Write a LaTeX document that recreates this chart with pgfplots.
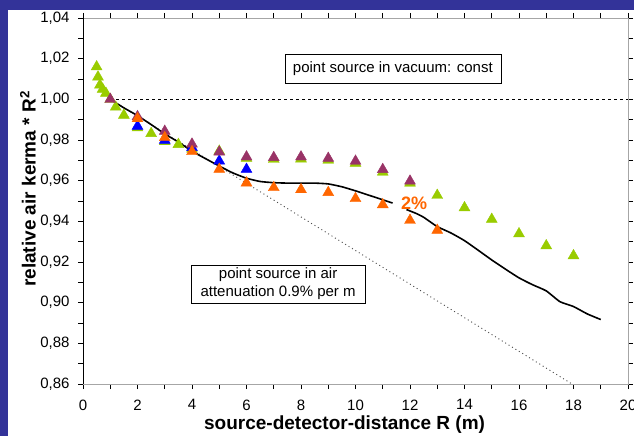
\documentclass[border=0pt]{standalone}
\usepackage{pgfplots}
\pgfplotsset{compat=1.18}
\usepackage{fontspec}
\setmainfont{Liberation Sans}
\definecolor{slideblue}{RGB}{51,51,153}
\definecolor{ygreen}{RGB}{153,204,0}
\definecolor{orng}{RGB}{255,102,0}
\definecolor{plum}{RGB}{153,51,102}
\definecolor{pblue}{RGB}{0,0,255}
\begin{document}
\begin{tikzpicture}
\useasboundingbox (0pt,0pt) rectangle (634pt,436pt);
\clip (0pt,0pt) rectangle (634pt,436pt);
\fill[slideblue] (0pt,0pt) rectangle (634pt,436pt);
\fill[white] (8pt,0pt) rectangle (634pt,426pt);
\begin{axis}[
  at={(83pt,52pt)}, anchor=south west,
  scale only axis, width=545pt, height=366pt,
  xmin=0, xmax=20, ymin=0.86, ymax=1.04,
  xtick={0,2,4,6,8,10,12,14,16,18,20},
  ytick={0.86,0.88,0.90,0.92,0.94,0.96,0.98,1.00,1.02,1.04},
  minor x tick num=1, minor y tick num=1,
  tick align=outside, major tick length=5pt, minor tick length=5pt,
  tick style={black, line width=0.6pt},
  axis line style={draw=gray!70, line width=0.8pt},
  /pgf/number format/assume math mode=true,
  ticklabel style={font=\fontsize{15}{18}\selectfont},
  yticklabel style={/pgf/number format/.cd, fixed, fixed zerofill, precision=2, use comma, /tikz/.cd, xshift=-5pt},
  xticklabel style={/pgf/number format/.cd, fixed, precision=0, /tikz/.cd, yshift=-7pt},
  xlabel={source-detector-distance R (m)},
  ylabel={relative air kerma * R\textsuperscript{2}},
  label style={font=\bfseries\fontsize{19}{22}\selectfont},
  xlabel style={at={(axis description cs:0.48,-0.112)}, anchor=center},
  ylabel style={at={(axis description cs:-0.101,0.533)}, anchor=center},
  every axis plot/.append style={mark size=6.3pt},
]
% reference lines
\addplot[black, line width=0.8pt, dash pattern=on 3pt off 3pt] coordinates {(1,1.0) (20,1.0)};
\addplot[black!70, line width=0.9pt, dash pattern=on 1pt off 3pt] coordinates {(1,1.0) (18.2,0.8579)};
% measured curve
\addplot[black, line width=1.6pt, smooth, tension=0.3] coordinates {
(1,1.000) (1.5,0.9958) (2,0.9920) (2.5,0.9876) (3,0.9830) (3.5,0.9790) (4,0.9745)
(4.5,0.9708) (5,0.9672) (5.5,0.9638) (6,0.9612) (6.5,0.9596) (7,0.9590) (7.5,0.9588)
(8,0.9588) (8.5,0.9588) (9,0.9584) (9.5,0.9570) (10,0.9550) (10.5,0.9528) (11,0.9506) (11.36,0.9490)};
\addplot[black, line width=1.6pt, smooth, tension=0.3] coordinates {
(11.87,0.9458) (12.24,0.9438) (12.5,0.9420) (13,0.9374) (13.5,0.9343) (14,0.9305)
(14.5,0.9258) (15,0.9210) (15.5,0.9165) (16,0.9122) (16.5,0.9088) (17,0.9058)
(17.5,0.9005) (18,0.8981) (18.5,0.8945) (19,0.8917)};
% green series
\addplot[only marks, mark=triangle*, color=ygreen] coordinates {
(0.5,1.016) (0.55,1.011) (0.62,1.007) (0.72,1.005) (0.84,1.003) (1,1.000)
(1.2,0.9962) (1.5,0.9922) (2,0.9860) (2.5,0.9832) (3,0.9792) (3.5,0.9778)
(4,0.9755) (5,0.9745) (6,0.9710) (7,0.9705) (8,0.9707) (9,0.9701) (10,0.9686)
(11,0.9642) (12,0.9588) (13,0.9528) (14,0.9467) (15,0.9410) (16,0.9339) (17,0.9280) (18,0.9231)};
% blue series
\addplot[only marks, mark=triangle*, color=pblue] coordinates {
(2,0.9868) (3,0.9799) (4,0.9763) (5,0.9697) (6,0.9656)};
% purple series
\addplot[only marks, mark=triangle*, color=plum] coordinates {
(1,1.000) (2,0.9915) (3,0.9843) (4,0.9780) (5,0.9741) (6,0.9717) (7,0.9714)
(8,0.9717) (9,0.9710) (10,0.9696) (11,0.9655) (12,0.9598)};
% orange series
\addplot[only marks, mark=triangle*, color=orng] coordinates {
(2,0.9905) (3,0.9812) (4,0.9743) (5,0.9656) (6,0.9589) (7,0.9566) (8,0.9556)
(9,0.9542) (10,0.9512) (11,0.9482) (12,0.9405) (13,0.9356)};
% annotations
\node[draw=black, fill=white, line width=0.6pt, minimum width=216pt, minimum height=29pt, inner sep=0pt,
  font=\fontsize{15}{18}\selectfont] at (axis cs:11.37,1.015) {point source in vacuum: const};
\node[draw=black, fill=white, line width=0.6pt, minimum width=174pt, minimum height=38pt, inner sep=0pt,
  align=center, font=\fontsize{15}{18}\selectfont] at (axis cs:7.16,0.9092) {point source in air\\attenuation 0.9\% per m};
\node[text=orng, font=\bfseries\fontsize{18}{20}\selectfont] at (axis cs:12.15,0.949) {2\%};
\draw[black, line width=0.8pt] (rel axis cs:0,1) -- (rel axis cs:0,0) -- (rel axis cs:1,0);
\end{axis}
\end{tikzpicture}
\end{document}
